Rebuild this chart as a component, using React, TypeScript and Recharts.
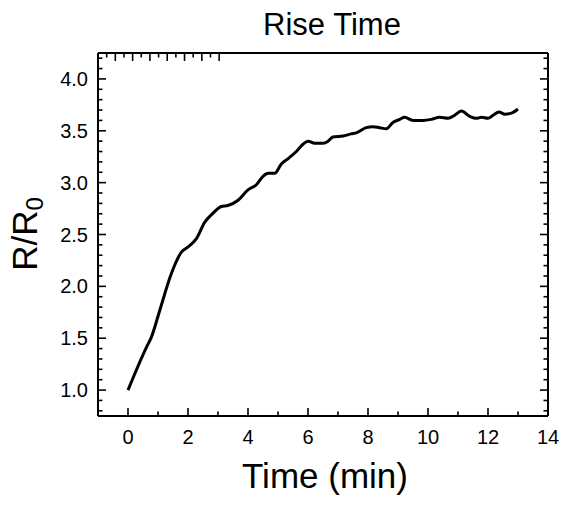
import React from 'react';
import { LineChart, Line, XAxis, YAxis } from 'recharts';

const timeMin = [0, 0.61, 0.78, 1.06, 1.44, 1.78, 2.0, 2.28, 2.56, 2.78, 3.11, 3.33, 3.67, 4.0, 4.28, 4.5, 4.67, 4.89, 5.11, 5.33, 5.61, 5.83, 6.0, 6.22, 6.5, 6.67, 6.83, 7.17, 7.44, 7.61, 7.94, 8.17, 8.39, 8.61, 8.83, 9.06, 9.22, 9.5, 9.83, 10.11, 10.39, 10.67, 10.89, 11.11, 11.39, 11.61, 11.78, 12.0, 12.17, 12.37, 12.56, 12.78, 13.0];
const ratio = [1.0, 1.41, 1.51, 1.77, 2.12, 2.33, 2.38, 2.46, 2.62, 2.69, 2.77, 2.78, 2.83, 2.93, 2.98, 3.06, 3.09, 3.09, 3.18, 3.23, 3.3, 3.37, 3.4, 3.38, 3.38, 3.4, 3.44, 3.45, 3.47, 3.48, 3.53, 3.54, 3.53, 3.52, 3.58, 3.61, 3.63, 3.6, 3.6, 3.61, 3.63, 3.62, 3.65, 3.69, 3.64, 3.62, 3.63, 3.62, 3.65, 3.68, 3.66, 3.67, 3.71];

const xMajorTicks = [0, 2, 4, 6, 8, 10, 12, 14];
const xMinorTicks = [1, 3, 5, 7, 9, 11, 13];
const yMajorTicks = [1.0, 1.5, 2.0, 2.5, 3.0, 3.5, 4.0];
const yMinorTicks = [0.8, 0.9, 1.1, 1.2, 1.3, 1.4, 1.6, 1.7, 1.8, 1.9, 2.1, 2.2, 2.3, 2.4, 2.6, 2.7, 2.8, 2.9, 3.1, 3.2, 3.3, 3.4, 3.6, 3.7, 3.8, 3.9, 4.1, 4.2];

const data = timeMin.map((t, i) => ({ t, r: ratio[i] }));
const xTicks = [...xMajorTicks, ...xMinorTicks].sort((a, b) => a - b);
const yTicks = [...yMajorTicks, ...yMinorTicks].sort((a, b) => a - b);

const FONT = '"Liberation Sans", Arial, sans-serif';
const MAJOR = 8;
const MINOR = 4.5;
const isMajorX = (v: number) => xMajorTicks.some((m) => Math.abs(m - v) < 1e-6);
const isMajorY = (v: number) => yMajorTicks.some((m) => Math.abs(m - v) < 1e-6);

const BottomTick = (props: any) => {
  const { x, y, payload } = props;
  const major = isMajorX(payload.value);
  return (
    <g>
      <line x1={x} x2={x} y1={y} y2={y - (major ? MAJOR : MINOR)} stroke="#000" strokeWidth={1.6} />
      {major && (
        <text x={x} y={y + 28} textAnchor="middle" fontSize={20} fontFamily={FONT} fill="#000">
          {payload.value}
        </text>
      )}
    </g>
  );
};

const TopTick = (props: any) => {
  const { x, y, payload } = props;
  const major = isMajorX(payload.value);
  return <line x1={x} x2={x} y1={y} y2={y + (major ? MAJOR : MINOR)} stroke="#000" strokeWidth={1.6} />;
};

const LeftTick = (props: any) => {
  const { x, y, payload } = props;
  const major = isMajorY(payload.value);
  return (
    <g>
      <line x1={x} x2={x + (major ? MAJOR : MINOR)} y1={y} y2={y} stroke="#000" strokeWidth={1.6} />
      {major && (
        <text x={x - 10} y={y + 7} textAnchor="end" fontSize={20} fontFamily={FONT} fill="#000">
          {Number(payload.value).toFixed(1)}
        </text>
      )}
    </g>
  );
};

const RightTick = (props: any) => {
  const { x, y, payload } = props;
  const major = isMajorY(payload.value);
  return <line x1={x} x2={x - (major ? MAJOR : MINOR)} y1={y} y2={y} stroke="#000" strokeWidth={1.6} />;
};

const axisLine = { stroke: '#000', strokeWidth: 2 };

export default function App() {
  return (
    <div style={{ position: 'absolute', left: 0, top: 0, width: 563, height: 505, background: '#fff' }}>
      <LineChart width={563} height={505} data={data} margin={{ top: 52, right: 14, left: 0, bottom: 0 }}>
        <XAxis
          dataKey="t"
          type="number"
          domain={[-1, 14]}
          ticks={xTicks}
          interval={0}
          allowDataOverflow
          height={89}
          tickSize={0}
          tickMargin={0}
          tickLine={false}
          axisLine={axisLine}
          tick={BottomTick}
        />
        <XAxis
          xAxisId="top"
          orientation="top"
          type="number"
          domain={[-1, 14]}
          ticks={xTicks}
          interval={0}
          allowDataOverflow
          height={1}
          tickSize={0}
          tickMargin={0}
          tickLine={false}
          axisLine={axisLine}
          tick={TopTick}
        />
        <YAxis
          type="number"
          domain={[0.75, 4.25]}
          ticks={yTicks}
          interval={0}
          allowDataOverflow
          width={98}
          tickSize={0}
          tickMargin={0}
          tickLine={false}
          axisLine={axisLine}
          tick={LeftTick}
        />
        <YAxis
          yAxisId="right"
          orientation="right"
          type="number"
          domain={[0.75, 4.25]}
          ticks={yTicks}
          interval={0}
          allowDataOverflow
          width={1}
          tickSize={0}
          tickMargin={0}
          tickLine={false}
          axisLine={axisLine}
          tick={RightTick}
        />
        <Line
          dataKey="r"
          type="monotone"
          stroke="#000"
          strokeWidth={3}
          dot={false}
          isAnimationActive={false}
        />
      </LineChart>
      <svg width={563} height={505} style={{ position: 'absolute', left: 0, top: 0, pointerEvents: 'none' }}>
        <text x={332} y={35} textAnchor="middle" fontSize={31} fontFamily={FONT} fill="#000">
          Rise Time
        </text>
        <text x={325} y={488} textAnchor="middle" fontSize={35} fontFamily={FONT} fill="#000">
          Time (min)
        </text>
        <text transform="rotate(-90)" x={-234} y={37} textAnchor="middle" fontSize={35} fontFamily={FONT} fill="#000">
          R/R<tspan fontSize={24} dy={6}>0</tspan>
        </text>
      </svg>
    </div>
  );
}
